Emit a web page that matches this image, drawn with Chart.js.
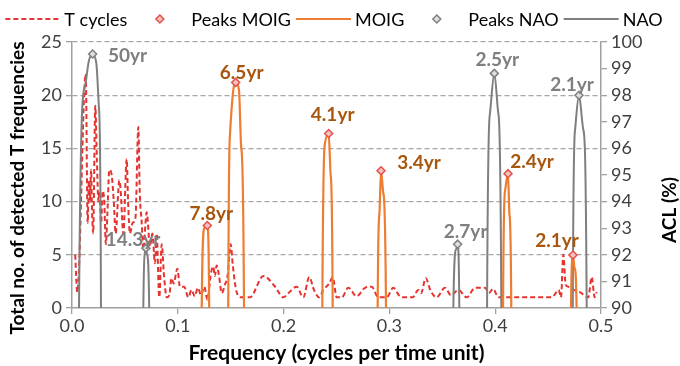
<!DOCTYPE html>
<html>
<head>
<meta charset="utf-8">
<script src="https://cdn.jsdelivr.net/npm/chart.js"></script>
<style>
  html, body { margin: 0; padding: 0; background: #fff; }
  .chart-area { width: 680px; height: 366px; position: relative; }
</style>
</head>
<body>
<div class="chart-area"><canvas id="chart" width="680" height="366"></canvas></div>
<script>
// T cycles (left axis, count)
const tFreq = [0.003, 0.005, 0.013, 0.0148, 0.016, 0.017, 0.018, 0.019, 0.020, 0.022, 0.0235, 0.025, 0.026, 0.0275,
  0.029, 0.0305, 0.032, 0.0335, 0.0353, 0.0375, 0.0395, 0.0413, 0.0447, 0.046, 0.0485, 0.0517, 0.053, 0.0548,
  0.0573, 0.060, 0.0627, 0.064, 0.0659, 0.0674, 0.0706, 0.0737, 0.076, 0.0784, 0.080, 0.0825, 0.0848, 0.087,
  0.0895, 0.092, 0.094, 0.096, 0.0996, 0.102, 0.106, 0.110, 0.113, 0.116, 0.119, 0.122, 0.125, 0.128, 0.1314,
  0.1336, 0.135, 0.1367, 0.139, 0.1415, 0.1446, 0.147, 0.150, 0.152, 0.1556, 0.1604, 0.168, 0.181, 0.192,
  0.1997, 0.2045, 0.2124, 0.2186, 0.2243, 0.2287, 0.2337, 0.2375, 0.2432, 0.2464, 0.2502, 0.255, 0.2612, 0.269,
  0.277, 0.2833, 0.2895, 0.2974, 0.3037, 0.310, 0.3147, 0.322, 0.3273, 0.330, 0.3343, 0.339, 0.3447, 0.3525,
  0.3582, 0.3652, 0.373, 0.381, 0.3904, 0.394, 0.398, 0.403, 0.411, 0.4534, 0.458, 0.460, 0.4622, 0.4644,
  0.4666, 0.469, 0.472, 0.480, 0.488, 0.4912, 0.494, 0.496];
const tCount = [5, 1.5, 22, 8, 12, 10, 13, 9, 7, 19, 14, 10, 11, 8,
  11, 10, 6, 9, 13, 12.5, 10, 7, 12, 11, 7, 14, 10, 7,
  8, 8.5, 17, 11, 8, 5.5, 9, 5.8, 7, 4.2, 7, 1, 6, 3,
  1, 1.2, 2.8, 2.3, 3.7, 2, 2, 1, 1.7, 1.1, 1.9, 1.2, 2, 0.8, 3.3,
  3.9, 3, 4, 3, 1.4, 2.2, 3, 6, 4, 1.5, 1, 1, 3, 2,
  1, 1.4, 2, 1, 2.9, 1.7, 1, 1.7, 2.3, 2.9, 1, 1, 1.9, 1.1,
  1.9, 2, 1, 1, 1.9, 1.1, 1, 1, 1.7, 1.4, 2.8, 1.6, 1, 1.9,
  1.2, 1.7, 1, 1.9, 1.9, 1.4, 1.8, 1, 1, 1, 1.5, 1.7, 1, 5,
  2.2, 2, 1.8, 1.5, 1, 2.9, 1, 1.5];

// MOIG ACL (right axis, %); values below 90 fall under the axis
const moigFreq = [0, 0.1222, 0.1226, 0.1250, 0.1279, 0.1297, 0.1301,
  0.1473, 0.1477, 0.1493, 0.1525, 0.1547, 0.1578, 0.1600, 0.1626, 0.1630,
  0.2362, 0.2366, 0.2391, 0.2426, 0.2445, 0.2464, 0.2468,
  0.2885, 0.2889, 0.2905, 0.2921, 0.2943, 0.2968, 0.2972,
  0.4070, 0.4074, 0.4093, 0.4121, 0.4135, 0.4152, 0.4156,
  0.4712, 0.4716, 0.4735, 0.4750, 0.4770, 0.4774, 0.5];
const moigAcl = [60, 60, 89.9, 93.0, 93.1, 89.9, 60,
  60, 89.9, 96.5, 98.2, 98.48, 98.2, 96.0, 89.9, 60,
  60, 89.9, 96.2, 96.56, 95.0, 89.9, 60,
  60, 89.9, 93.5, 95.16, 94.3, 89.9, 60,
  60, 89.9, 94.4, 95.05, 93.5, 89.9, 60,
  60, 89.9, 91.99, 91.5, 89.9, 60, 60];

// NAO ACL
const naoFreq = [0, 0.0062, 0.0066, 0.0120, 0.0160, 0.0195, 0.0230, 0.0255, 0.0274, 0.0278,
  0.0670, 0.0674, 0.0690, 0.0699, 0.0710, 0.0730, 0.0734,
  0.3600, 0.3604, 0.3630, 0.3645, 0.3661, 0.3665,
  0.3919, 0.3923, 0.3950, 0.3992, 0.4030, 0.4058, 0.4062,
  0.4729, 0.4733, 0.4755, 0.4792, 0.4833, 0.4865, 0.4869, 0.5];
const naoAcl = [60, 60, 89.9, 98.3, 99.3, 99.55, 99.2, 97.5, 89.9, 60,
  60, 89.9, 92.1, 92.25, 92.0, 89.9, 60,
  60, 89.9, 92.2, 92.4, 89.9, 60,
  60, 89.9, 97.3, 98.82, 97.3, 89.9, 60,
  60, 89.9, 96.7, 98.0, 96.7, 89.9, 60, 60];

// 피크
const moigPeakFreq = [0.1279, 0.1547, 0.2426, 0.2921, 0.4121, 0.4735];
const moigPeakAcl = [93.1, 98.48, 96.56, 95.16, 95.05, 91.99];
const moigPeakLabels = ['7.8yr', '6.5yr', '4.1yr', '3.4yr', '2.4yr', '2.1yr'];
const naoPeakFreq = [0.0195, 0.0699, 0.3645, 0.3992, 0.4792];
const naoPeakAcl = [99.55, 92.25, 92.4, 98.82, 98.0];
const naoPeakLabels = ['50yr', '14.3yr', '2.7yr', '2.5yr', '2.1yr'];

const FONT = 'Lato, "Open Sans", sans-serif';
const RED = '#e5332f';
const ORANGE = '#ed7d31';
const GREY = '#7f7f7f';
const AXIS = '#a0a0a0';

const toPoints = (xs, ys) => xs.map((x, i) => ({ x, y: ys[i] }));

// 레이블 위치 보정 (center offset from the peak marker)
const moigLabelOffsets = [[4, -12], [6, -10], [4, -19], [38, -8], [24, -12], [-16, -14]];
const naoLabelOffsets = [[35, 2], [-13, -8], [8, -12], [3, -14], [-7, -10]];

const peakLabelPlugin = {
  id: 'peakLabels',
  afterDatasetsDraw(chart) {
    const { ctx, scales } = chart;
    const x = scales.x, y = scales.y1;
    ctx.save();
    ctx.font = 'bold 19px ' + FONT;
    ctx.textAlign = 'center';
    ctx.textBaseline = 'middle';
    const draw = (freqs, acls, labels, offsets, color) => {
      ctx.fillStyle = color;
      labels.forEach((txt, i) => {
        const px = x.getPixelForValue(freqs[i]) + offsets[i][0];
        const py = y.getPixelForValue(acls[i]) + offsets[i][1];
        ctx.fillText(txt, px, py);
      });
    };
    draw(moigPeakFreq, moigPeakAcl, moigPeakLabels, moigLabelOffsets, '#a8560e');
    draw(naoPeakFreq, naoPeakAcl, naoPeakLabels, naoLabelOffsets, GREY);
    ctx.restore();
  }
};

// 세로축 제목 (Excel처럼 약간 아래쪽에 배치)
const axisTitlePlugin = {
  id: 'axisTitles',
  afterDraw(chart) {
    const ctx = chart.ctx;
    const titles = [
      { text: chart.options.scales.y.title.text, x: 18, y: 188 },
      { text: chart.options.scales.y1.title.text, x: 670, y: 210 }
    ];
    ctx.save();
    ctx.font = 'bold 19px ' + FONT;
    ctx.fillStyle = '#000';
    ctx.textAlign = 'center';
    ctx.textBaseline = 'middle';
    titles.forEach(t => {
      ctx.save();
      ctx.translate(t.x, t.y);
      ctx.rotate(-Math.PI / 2);
      ctx.fillText(t.text, 0, 0);
      ctx.restore();
    });
    ctx.restore();
  }
};

// 범례 직접 그리기
const legendPlugin = {
  id: 'customLegend',
  afterDraw(chart) {
    const ctx = chart.ctx;
    const items = chart.data.datasets;
    ctx.save();
    ctx.font = '18px ' + FONT;
    ctx.textBaseline = 'middle';
    ctx.textAlign = 'left';
    const sample = 55, gap = 4, spacing = 5, y = 19;
    const widths = items.map(ds => sample + gap + ctx.measureText(ds.label).width);
    const total = widths.reduce((a, b) => a + b, 0) + spacing * (items.length - 1);
    let x = 334 - total / 2;
    items.forEach((ds, i) => {
      if (ds.showLine === false) {
        const cx = x + sample / 2, r = 4;
        ctx.beginPath();
        ctx.moveTo(cx, y - r);
        ctx.lineTo(cx + r, y);
        ctx.lineTo(cx, y + r);
        ctx.lineTo(cx - r, y);
        ctx.closePath();
        ctx.fillStyle = ds.pointBackgroundColor;
        ctx.fill();
        ctx.lineWidth = 1.5;
        ctx.strokeStyle = ds.pointBorderColor;
        ctx.stroke();
      } else {
        ctx.beginPath();
        ctx.setLineDash(ds.borderDash || []);
        ctx.lineWidth = ds.borderWidth;
        ctx.strokeStyle = ds.borderColor;
        ctx.moveTo(x, y);
        ctx.lineTo(x + sample, y);
        ctx.stroke();
        ctx.setLineDash([]);
      }
      ctx.fillStyle = '#000';
      ctx.fillText(ds.label, x + sample + gap, y + 1);
      x += widths[i] + spacing;
    });
    ctx.restore();
  }
};

Chart.defaults.font.family = FONT;
Chart.defaults.color = '#404040';

const ctx = document.getElementById('chart');
window.chart = new Chart(ctx, {
  type: 'line',
  data: {
    datasets: [
      {
        label: 'T cycles',
        data: toPoints(tFreq, tCount),
        yAxisID: 'y',
        borderColor: RED,
        borderWidth: 2,
        borderDash: [5, 3],
        pointRadius: 0,
        cubicInterpolationMode: 'monotone',
        order: 3
      },
      {
        label: 'Peaks MOIG',
        data: toPoints(moigPeakFreq, moigPeakAcl),
        yAxisID: 'y1',
        showLine: false,
        pointStyle: 'rectRot',
        pointRadius: 4,
        pointBorderWidth: 1.5,
        pointBorderColor: '#e5504a',
        pointBackgroundColor: '#f6c2bf',
        order: 0
      },
      {
        label: 'MOIG',
        data: toPoints(moigFreq, moigAcl),
        yAxisID: 'y1',
        borderColor: ORANGE,
        borderWidth: 2.2,
        pointRadius: 0,
        cubicInterpolationMode: 'monotone',
        order: 1
      },
      {
        label: 'Peaks NAO',
        data: toPoints(naoPeakFreq, naoPeakAcl),
        yAxisID: 'y1',
        showLine: false,
        pointStyle: 'rectRot',
        pointRadius: 4,
        pointBorderWidth: 1.5,
        pointBorderColor: GREY,
        pointBackgroundColor: '#e0e0e0',
        order: 0
      },
      {
        label: 'NAO',
        data: toPoints(naoFreq, naoAcl),
        yAxisID: 'y1',
        borderColor: GREY,
        borderWidth: 2,
        pointRadius: 0,
        cubicInterpolationMode: 'monotone',
        order: 2
      }
    ]
  },
  options: {
    responsive: false,
    animation: false,
    layout: { padding: { top: 42 } },
    plugins: {
      legend: { display: false },
      tooltip: { enabled: false }
    },
    scales: {
      x: {
        type: 'linear',
        min: 0,
        max: 0.5,
        ticks: {
          stepSize: 0.1,
          font: { size: 18 },
          padding: 1,
          callback: v => v.toFixed(1)
        },
        grid: { drawOnChartArea: false, tickLength: 6, tickColor: AXIS, lineWidth: 1.3 },
        border: { color: AXIS, width: 1.5 },
        title: {
          display: true,
          text: 'Frequency (cycles per time unit)',
          color: '#000',
          font: { size: 21, weight: 'bold' },
          padding: { top: 0, bottom: 0 }
        },
        afterFit: scale => { scale.height = 58; }
      },
      y: {
        position: 'left',
        min: 0,
        max: 25,
        ticks: { stepSize: 5, font: { size: 18 }, padding: 4 },
        grid: {
          color: c => (c.tick && c.tick.value === 0 ? 'rgba(0,0,0,0)' : '#a6a6a6'),
          lineWidth: 1.3,
          tickLength: 6,
          tickColor: AXIS
        },
        border: { color: AXIS, width: 1.5, dash: [5, 3] },
        title: { display: false, text: 'Total no. of detected T frequencies' },
        afterFit: scale => { scale.width = 72; }
      },
      y1: {
        position: 'right',
        min: 90,
        max: 100,
        ticks: { stepSize: 1, font: { size: 18 }, padding: 4 },
        grid: { drawOnChartArea: false, tickLength: 6, tickColor: AXIS, lineWidth: 1.3 },
        border: { color: AXIS, width: 1.5 },
        title: { display: false, text: 'ACL (%)' },
        afterFit: scale => { scale.width = 79; }
      }
    }
  },
  plugins: [peakLabelPlugin, axisTitlePlugin, legendPlugin]
});
</script>
</body>
</html>
